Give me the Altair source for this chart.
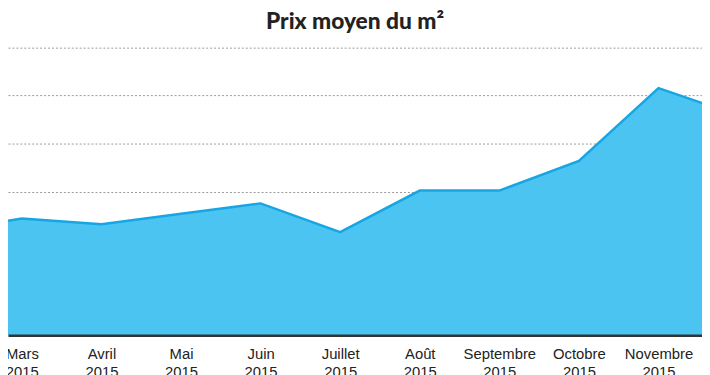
import altair as alt
import pandas as pd

# Data (month index, average price per m²)
month_num = [2, 3, 4, 5, 6, 7, 8, 9, 10, 11, 12]
month_name = ["Février", "Mars", "Avril", "Mai", "Juin", "Juillet", "Août",
              "Septembre", "Octobre", "Novembre", "Décembre"]
prices = [1081, 1218, 1159, 1268, 1376, 1076, 1510, 1510, 1819, 2578, 2294]
year = "2015"

# visible tick labels (Mars .. Novembre)
tick_values = [3, 4, 5, 6, 7, 8, 9, 10, 11]
tick_names = ["Mars", "Avril", "Mai", "Juin", "Juillet", "Août",
              "Septembre", "Octobre", "Novembre"]
grid_values = [0, 500, 1000, 1500, 2000, 2500, 3000]

df = pd.DataFrame({"m": month_num, "mois": month_name, "prix": prices})

label_expr = "[" + ",".join(f"['{n}','{year}']" for n in tick_names) + "][datum.value - 3]"

x_scale = alt.Scale(domain=[2.8261, 11.5466], nice=False, zero=False)
y_scale = alt.Scale(domain=[0, 3000], nice=False)

x_enc = alt.X(
    "m:Q",
    scale=x_scale,
    axis=alt.Axis(
        values=tick_values,
        labelExpr=label_expr,
        title=None,
        grid=False,
        ticks=False,
        domain=True,
        domainColor="#333333",
        domainWidth=2.5,
        labelFont="Liberation Sans",
        labelFontSize=15,
        labelColor="#222222",
        labelPadding=11,
        labelLineHeight=19,
        labelOverlap=False,
        labelFlush=False,
        zindex=1,
    ),
)
y_enc = alt.Y(
    "prix:Q",
    scale=y_scale,
    axis=alt.Axis(
        values=grid_values,
        labels=False,
        ticks=False,
        domain=False,
        title=None,
        grid=True,
        gridColor="#9a9a9a",
        gridDash=[2, 2],
        gridWidth=1,
    ),
)

area = alt.Chart(df).mark_area(color="#4cc4f1", opacity=1, clip=True).encode(x=x_enc, y=y_enc)
line = alt.Chart(df).mark_line(color="#16a6e3", strokeWidth=2.5, clip=True).encode(x="m:Q", y="prix:Q")

chart = (
    alt.layer(area, line)
    .properties(
        width=702,
        height=291,
        autosize=alt.AutoSizeParams(type="none"),
        padding={"left": 0, "top": 38, "right": 0, "bottom": 38},
        background="white",
        title=alt.TitleParams(
            "Prix moyen du m²",
            font="Lato",
            fontWeight=900,
            fontSize=23,
            color="#222222",
            anchor="middle",
            offset=14,
        ),
    )
    .configure_view(strokeWidth=0)
)

chart.save("out.html", embed_options={"renderer": "svg", "actions": False})
